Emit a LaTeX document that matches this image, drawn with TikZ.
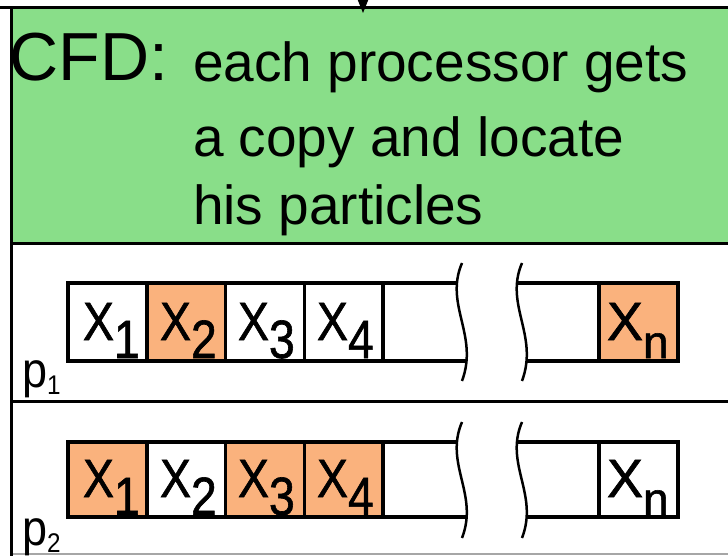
\documentclass[tikz,border=0pt]{standalone}
\usepackage{fontspec}
\setmainfont{Liberation Sans}
\newfontfamily\cellfont{Liberation Sans}[FakeBold=1.2]
\usetikzlibrary{arrows.meta}
\definecolor{grn}{RGB}{137,222,137}
\definecolor{org}{RGB}{250,178,125}
\newcommand{\cx}[1]{\scalebox{0.86}[1]{\cellfont\fontsize{54}{54}\selectfont X\raisebox{-18pt}{#1}}}
\newcommand{\cxn}{{\cellfont\fontsize{54}{54}\selectfont X\raisebox{-18pt}{\fontsize{46}{46}\selectfont n}}}
\newcommand{\plab}[1]{\scalebox{0.9}[1]{\fontsize{50}{50}\selectfont p\raisebox{-7pt}{\fontsize{27}{27}\selectfont #1}}}
\begin{document}
\begin{tikzpicture}[x=1pt,y=-1pt,
  cell/.style={draw=black, line width=3.5pt, inner sep=0pt, outer sep=0pt, anchor=north west, minimum width=78.75pt},
  rowa/.style={cell, minimum height=78pt},
  rowb/.style={cell, minimum height=75pt},
  rowline/.style={draw=black, line width=3.5pt},
  squig/.style={draw=black, line width=2.5pt},
  lab/.style={anchor=base west, inner sep=0pt, outer sep=0pt},
  txt/.style={anchor=base west, inner sep=0pt, outer sep=0pt, font=\fontsize{55}{55}\selectfont},
  frame/.style={draw=black, line width=3pt}]
\useasboundingbox (0,0) rectangle (728,556);
% green header
\fill[grn] (11,8) rectangle (728,243);
\draw[frame] (0,8) -- (728,8);
\draw[frame] (11,243) -- (728,243);
\draw[frame] (11,401) -- (728,401);
\draw[draw=black!35, line width=1.5pt] (11,554) -- (728,554);
\draw[frame] (11,8) -- (11,556);
% incoming arrow
\coordinate (arrtop) at (363,-2);
\coordinate (arrtip) at (363,13);
\draw[line width=1pt, -{Triangle[length=14pt,width=11pt]}] (arrtop) -- (arrtip);
% header text
\node[anchor=base west, inner sep=0pt, font=\fontsize{68}{68}\selectfont] (cfd) at (9.5,81) {CFD:};
\node[txt] (l1) at (193,82) {each processor gets};
\node[txt] (l2) at (193,157) {a copy and locate};
\node[txt] (l3) at (193,225) {his particles};
% ---- row 1 (p1)
\node[rowa, fill=white] (a1) at (68,283) {};
\node[rowa, fill=org] (a2) at (146.75,283) {};
\node[rowa, fill=white] (a3) at (225.5,283) {};
\node[rowa, fill=white] (a4) at (304.25,283) {};
\node[rowa, fill=org] (an) at (599,283) {};
\coordinate (a5t) at (457,283);
\coordinate (a5b) at (466,361);
\coordinate (a6t) at (517,283);
\coordinate (a6b) at (526,361);
\draw[rowline] (a4.north east) -- (a5t);
\draw[rowline] (a4.south east) -- (a5b);
\draw[rowline] (a6t) -- (an.north west);
\draw[rowline] (a6b) -- (an.south west);
\draw[squig] (462,263) .. controls (444,305) and (479,335) .. (462,381);
\draw[squig] (522,263) .. controls (504,305) and (539,335) .. (522,381);
\node[lab] (ta1) at (83,340) {\cx{1}};
\node[lab] (ta2) at (160,340) {\cx{2}};
\node[lab] (ta3) at (238,340) {\cx{3}};
\node[lab] (ta4) at (317,340) {\cx{4}};
\node[lab] (tan) at (607,340) {\cxn};
\node[lab] (p1) at (22,387) {\plab{1}};
% ---- row 2 (p2)
\node[rowb, fill=org] (b1) at (68,442) {};
\node[rowb, fill=white] (b2) at (146.75,442) {};
\node[rowb, fill=org] (b3) at (225.5,442) {};
\node[rowb, fill=org] (b4) at (304.25,442) {};
\node[rowb, fill=white] (bn) at (599,442) {};
\coordinate (b5t) at (457,442);
\coordinate (b5b) at (466,517);
\coordinate (b6t) at (517,442);
\coordinate (b6b) at (526,517);
\draw[rowline] (b4.north east) -- (b5t);
\draw[rowline] (b4.south east) -- (b5b);
\draw[rowline] (b6t) -- (bn.north west);
\draw[rowline] (b6b) -- (bn.south west);
\draw[squig] (462,422) .. controls (444,464) and (479,494) .. (462,538);
\draw[squig] (522,422) .. controls (504,464) and (539,494) .. (522,538);
\node[lab] (tb1) at (83,497) {\cx{1}};
\node[lab] (tb2) at (160,497) {\cx{2}};
\node[lab] (tb3) at (238,497) {\cx{3}};
\node[lab] (tb4) at (317,497) {\cx{4}};
\node[lab] (tbn) at (607,497) {\cxn};
\node[lab] (p2) at (22,545) {\plab{2}};
\end{tikzpicture}
\end{document}
